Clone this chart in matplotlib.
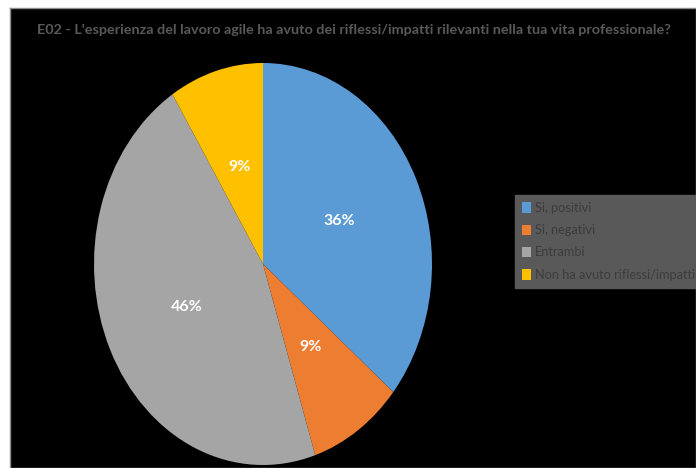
import matplotlib
matplotlib.use("Agg")
import matplotlib.pyplot as plt
from matplotlib.patches import Patch

plt.rcParams['font.family'] = ['Lato', 'DejaVu Sans']

title = "E02 - L'esperienza del lavoro agile ha avuto dei riflessi/impatti rilevanti nella tua vita professionale?"
categories = ["Si, positivi", "Si, negativi", "Entrambi", "Non ha avuto riflessi/impatti"]
values = [36, 9, 46, 9]
colors = ["#5B9BD5", "#ED7D31", "#A5A5A5", "#FFC000"]

W, H = 696, 468
fig = plt.figure(figsize=(W / 100, H / 100), dpi=100, facecolor="white")
renderer = fig.canvas.get_renderer()

weight_of = {title: "bold", categories[-1]: "normal"}


def fit_size(txt, width_px, base=12):
    t = fig.text(0, 0, txt, fontsize=base, fontweight=weight_of[txt])
    w = t.get_window_extent(renderer).width
    t.remove()
    return base * width_px / w


# black chart area with thin grey border
bg = fig.add_axes([10 / W, 0, (W - 10) / W, (H - 8) / H])
bg.set_facecolor("black")
bg.set_xticks([]); bg.set_yticks([])
for s in bg.spines.values():
    s.set_color("#8c8c8c"); s.set_linewidth(1)

fig.text(0.5 + 6 / W, 1 - 30 / H, title, ha="center", va="center",
         color="#595959", fontsize=fit_size(title, 630), fontweight="bold")

# pie drawn as an ellipse: axes box matches the pie extent
cx, cy, rx, ry = 263, 264, 169, 201
ax = fig.add_axes([(cx - rx) / W, (H - cy - ry) / H, 2 * rx / W, 2 * ry / H])
ax.set_facecolor("none")
ax.axis("off")
wedges, texts, autotexts = ax.pie(
    values, colors=colors, startangle=90, counterclock=False,
    autopct=lambda p: f"{p:.0f}%", pctdistance=0.5,
    wedgeprops=dict(linewidth=0),
    textprops=dict(color="white", fontsize=11.5, fontweight="bold"))
ax.set_aspect("auto")
ax.set_xlim(-1, 1); ax.set_ylim(-1, 1)

leg_fs = fit_size(categories[-1], 160)
handles = [Patch(facecolor=c, edgecolor="none") for c in colors]
leg = fig.legend(handles, categories, loc="upper left",
                 bbox_to_anchor=(515 / W, 1 - 195 / H),
                 frameon=True, fancybox=False, fontsize=leg_fs,
                 handlelength=0.7, handleheight=0.9, handletextpad=0.3,
                 labelspacing=0.8, borderpad=0.55, borderaxespad=0)
leg.get_frame().set_facecolor("#595959")
leg.get_frame().set_edgecolor("#595959")
leg.get_frame().set_alpha(1)
for t in leg.get_texts():
    t.set_color("#3c3c3c")

fig.savefig("out.png", dpi=100, facecolor=fig.get_facecolor())
